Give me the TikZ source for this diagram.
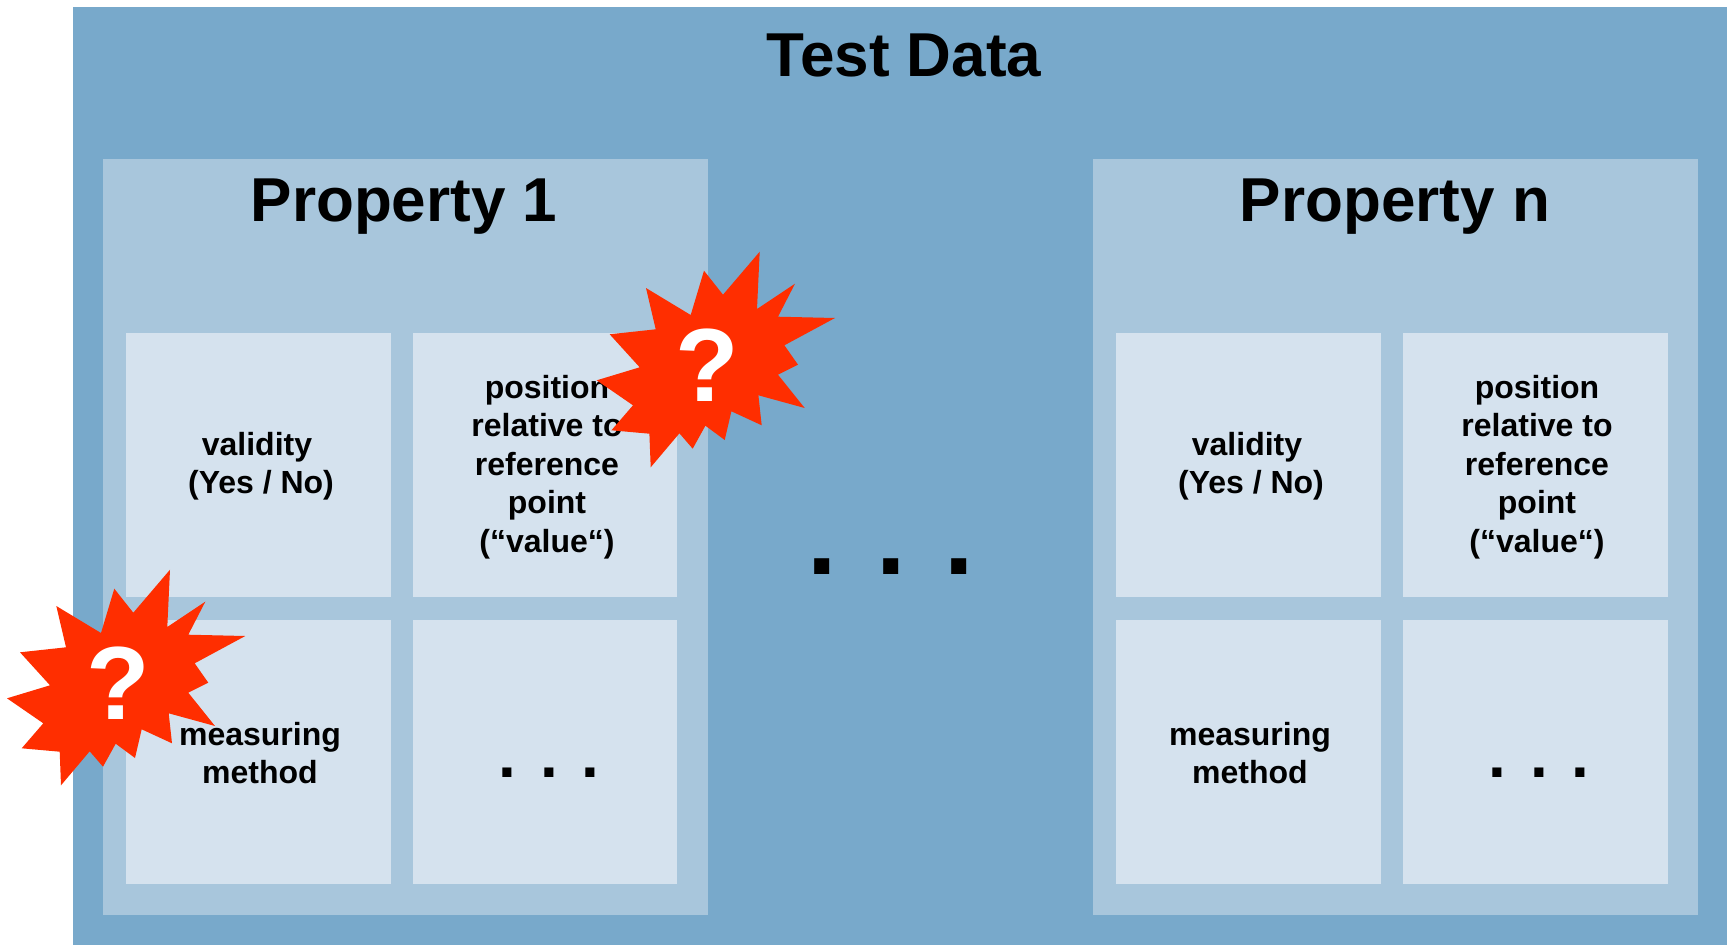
\documentclass[tikz,border=0pt]{standalone}
\usepackage{fontspec}
\setmainfont{Liberation Sans}
\definecolor{dataBlue}{HTML}{78A9CB}
\definecolor{propBlue}{HTML}{A8C6DC}
\definecolor{cellBlue}{HTML}{D5E2EE}
\definecolor{burstRed}{HTML}{FF2E00}
\tikzset{
    headline/.style={inner sep=0, font=\bfseries\fontsize{62}{70}\selectfont},
    celltext/.style={inner sep=0, align=center, font=\bfseries\fontsize{32}{38.5}\selectfont},
    bigdots/.style={inner sep=0, anchor=base, font=\bfseries\fontsize{106}{110}\selectfont},
    smalldots/.style={inner sep=0, anchor=base, font=\bfseries\fontsize{64}{70}\selectfont},
    burstmark/.style={inner sep=0, text=white, font=\bfseries\fontsize{104}{110}\selectfont},
}
\newcommand{\burst}[2]{
    \fill[burstRed, shift={#1}] (52,-113.3) -- (49.3,-56) -- (87.3,-81.3) -- (70.3,-48.3) -- (127.3,-47) -- (76.7,-19.7) -- (90.3,-0.3) -- (70.3,9.7) -- (97,43) -- (50.7,30.3) -- (54,60.3) -- (23.7,46.3) -- (17,75) -- (-2.3,60.7) -- (-15,83.7) -- (-28.3,68.3) -- (-57,102.3) -- (-58.3,68.7) -- (-96.3,65.3) -- (-74.7,40.3) -- (-111,15.3) -- (-68,2.3) -- (-98,-30.7) -- (-52,-35.7) -- (-61.7,-77) -- (-17,-50) -- (-3.7,-94.3) -- (15.3,-70.3) -- cycle;
    \node[burstmark] (#2) at #1 {?};
}
\begin{document}
\begin{tikzpicture}[x=1pt, y=-1pt]
    \useasboundingbox (0,0) rectangle (1727,945);
    \fill[dataBlue] (73,7) rectangle (1727,945);
    \fill[propBlue] (103,159) rectangle (708,915);
    \fill[propBlue] (1093,159) rectangle (1698,915);
    \fill[cellBlue] (126,333) rectangle (391,597);
    \fill[cellBlue] (413,333) rectangle (677,597);
    \fill[cellBlue] (126,620) rectangle (391,884);
    \fill[cellBlue] (413,620) rectangle (677,884);
    \fill[cellBlue] (1116,333) rectangle (1381,597);
    \fill[cellBlue] (1403,333) rectangle (1668,597);
    \fill[cellBlue] (1116,620) rectangle (1381,884);
    \fill[cellBlue] (1403,620) rectangle (1668,884);
    \node[headline] (testdata) at (904,55) {Test Data};
    \node[headline] (propone) at (404,207) {Property 1};
    \node[headline] (propn) at (1395,207) {Property n};
    \node[celltext] (validone) at (261,466) {validity\hspace*{8pt}\\(Yes / No)};
    \node[celltext] (posone) at (547,467) {position\\relative to\\reference\hspace*{8pt}\\point\\(“value“)};
    \node[celltext] (measone) at (260,753) {measuring\\method};
    \node[smalldots] (dotsone) at (549,777) {. . .};
    \node[bigdots] (dotsmid) at (891,574) {. . .};
    \node[celltext] (validn) at (1251,466) {validity\hspace*{8pt}\\(Yes / No)};
    \node[celltext] (posn) at (1537,467) {position\\relative to\\reference\hspace*{8pt}\\point\\(“value“)};
    \node[celltext] (measn) at (1250,753) {measuring\\method};
    \node[smalldots] (dotsn) at (1539,777) {. . .};
    \burst{(707.7,365)}{burstpos}
    \burst{(118,683)}{burstmeas}
\end{tikzpicture}
\end{document}
